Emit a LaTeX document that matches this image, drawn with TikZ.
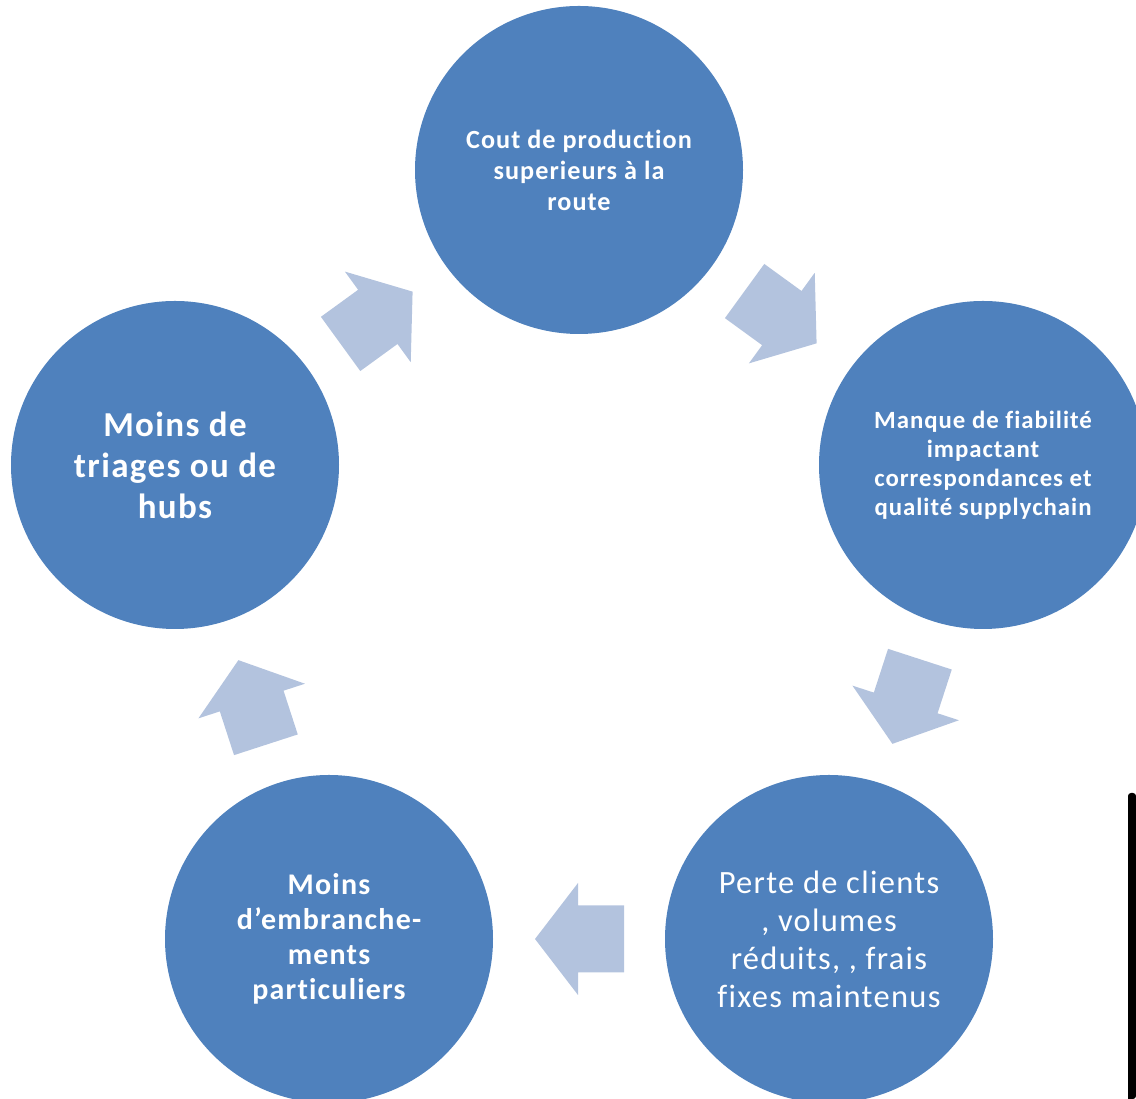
\documentclass[tikz,border=0pt]{standalone}
\usepackage{fontspec}
\setmainfont{Carlito}[LetterSpace=4.0, Ligatures={NoCommon}]
\usetikzlibrary{calc}
\definecolor{circblue}{HTML}{4F81BD}
\definecolor{arrblue}{HTML}{B3C3DE}
\begin{document}
\begin{tikzpicture}[x=1pt,y=1pt,
  cyc/.style={circle, fill=circblue, minimum size=328pt, inner sep=0pt, text=white, align=center},
  blockarrow/.style={fill=arrblue, draw=none}]
\useasboundingbox (0,0) rectangle (1136,1099);
\begin{scope}
\clip (0,0) rectangle (1136,1099);
\node[cyc, font=\bfseries\fontsize{26.2}{31}\selectfont] (top) at (579,929) {Cout de production\\superieurs à la\\route};
\node[cyc, font=\bfseries\fontsize{24.8}{29}\selectfont] (right) at (983,634) {Manque de fiabilité\\impactant\\correspondances et\\qualité supplychain};
\node[cyc, font=\fontsize{32.5}{38}\selectfont] (br) at (829,160) {Perte de clients\\, volumes\\réduits, , frais\\fixes maintenus};
\node[cyc, font=\bfseries\fontsize{30}{35}\selectfont] (bl) at (329,160) {Moins\\d’embranche-\\ments\\particuliers};
\node[cyc, font=\bfseries\fontsize{35}{41}\selectfont] (left) at (175,634) {Moins de\\triages ou de\\hubs};
\foreach \a/\b/\ang in {top/right/-36, right/br/-108, br/bl/180, bl/left/108, left/top/36}{
  \path ($(\a.center)!0.5!(\b.center)$) coordinate (m-\a);
  \fill[blockarrow, shift={(m-\a)}, rotate=\ang]
    (44,0) -- (1,56) -- (1,33.5) -- (-45,33.5) -- (-45,-33.5) -- (1,-33.5) -- (1,-56) -- cycle;
}
\fill[black] (1136,0) -- (1128,0) [rounded corners=3pt] -- (1128,306) -- (1136,306) -- cycle;
\end{scope}
\end{tikzpicture}
\end{document}
